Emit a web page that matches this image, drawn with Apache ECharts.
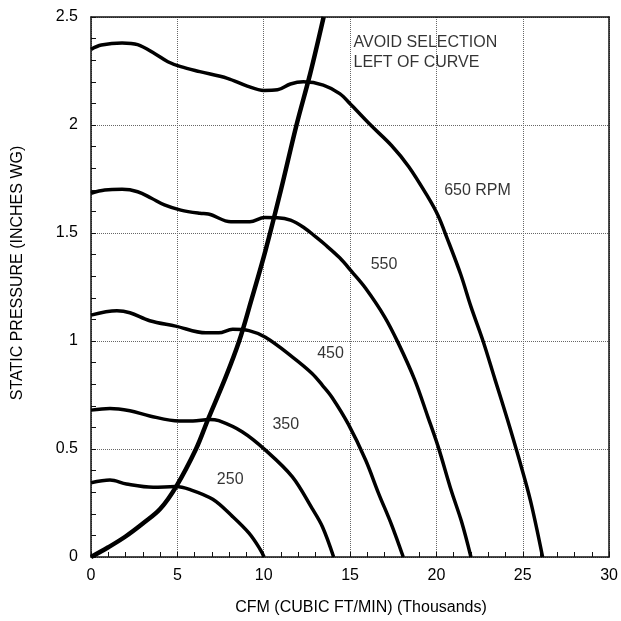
<!DOCTYPE html>
<html>
<head>
<meta charset="utf-8">
<script src="https://cdn.jsdelivr.net/npm/echarts@6/dist/echarts.min.js"></script>
<style>
html,body{margin:0;padding:0;background:#fff;overflow:hidden;}
#chart{width:621px;height:621px;}
</style>
</head>
<body>
<div id="chart"></div>
<script>
// CFM in thousands, static pressure in inches WG
var rpm650 = [[0,2.35],[0.6,2.37],[1.8,2.38],[2.7,2.372],[3.7,2.33],[4.45,2.293],[5.2,2.27],[6.3,2.247],[7.9,2.216],[9.05,2.18],[10,2.16],[10.8,2.163],[11.55,2.19],[12.3,2.2],[13.45,2.185],[14.4,2.145],[15.1,2.09],[16.25,1.995],[17.4,1.905],[18.4,1.807],[19.5,1.668],[20.1,1.58],[20.6,1.48],[21.4,1.31],[22.0,1.159],[22.7,1.0],[23.4,0.82],[24.1,0.64],[24.8,0.45],[25.45,0.26],[26.15,0]];
var rpm550 = [[0,1.684],[0.8,1.699],[1.8,1.702],[2.7,1.691],[3.5,1.661],[4.25,1.63],[5.2,1.606],[6.3,1.591],[6.8,1.588],[8.1,1.552],[9.2,1.552],[10.05,1.572],[10.8,1.571],[11.55,1.56],[12.3,1.527],[13.0,1.483],[13.5,1.45],[14.4,1.385],[15.1,1.321],[15.9,1.244],[17.0,1.112],[17.8,0.989],[18.75,0.819],[19.5,0.65],[20.1,0.511],[20.85,0.31],[21.45,0.165],[22.0,0]];
var rpm450 = [[0,1.12],[1.5,1.14],[2.25,1.131],[3.4,1.094],[4.9,1.069],[6.65,1.038],[7.4,1.038],[8.2,1.054],[9.15,1.048],[10.1,1.017],[11.65,0.927],[12.8,0.85],[13.4,0.795],[13.95,0.74],[14.9,0.615],[15.9,0.449],[16.65,0.295],[17.4,0.15],[18.08,0]];
var rpm350 = [[0,0.68],[1.1,0.688],[2.25,0.677],[3.4,0.653],[5.1,0.63],[5.9,0.63],[6.85,0.637],[7.4,0.631],[8.75,0.58],[10.1,0.495],[11.65,0.372],[12.8,0.225],[13.4,0.14],[14.05,0]];
var rpm250 = [[0,0.344],[1.1,0.356],[2.05,0.338],[3.6,0.323],[4.9,0.326],[5.7,0.313],[7.05,0.267],[8.2,0.187],[9.15,0.11],[9.8,0.035],[10.02,0]];
var systemCurve = [[0,0],[1,0.045],[2,0.095],[3,0.155],[4,0.222],[4.93,0.326],[6.08,0.5],[6.76,0.634],[7.81,0.835],[8.58,1.0],[9.25,1.18],[10.11,1.421],[11.0,1.7],[11.9,2.0],[12.7,2.24],[13.47,2.5]];

var curveLabels = ['650 RPM','550','450','350','250'];
var curveLabelX = [22.38,16.97,13.87,11.28,8.06];
var curveLabelY = [1.698,1.352,0.941,0.611,0.359];
var noteLines = ['AVOID SELECTION','LEFT OF CURVE'];
var noteX = [15.2,15.2];
var noteY = [2.382,2.288];

var xTitle = 'CFM (CUBIC FT/MIN) (Thousands)';
var yTitle = 'STATIC PRESSURE (INCHES WG)';

var FONT = '"Liberation Sans", Arial, sans-serif';

function curve(name, data, w) {
  return {
    name: name, type: 'line', data: data, smooth: 0.35, symbol: 'none',
    lineStyle: { color: '#000', width: w }, clip: true, silent: true
  };
}

var chart = echarts.init(document.getElementById('chart'), null, {renderer: 'canvas'});
var option = {
  animation: false,
  backgroundColor: '#fff',
  grid: { left: 91, right: 9, top: 17, bottom: 64, containLabel: false },
  textStyle: { fontFamily: FONT },
  xAxis: [{
    type: 'value', min: 0, max: 30, interval: 5,
    name: xTitle, nameLocation: 'middle', nameGap: 43,
    nameTextStyle: { fontFamily: FONT, fontSize: 16, color: '#000', padding: [0,0,0,22] },
    axisLine: { show: true, lineStyle: { color: '#111', width: 1.5 } },
    axisTick: { show: true, inside: true, length: 5, lineStyle: { color: '#111' } },
    minorTick: { show: true, splitNumber: 5, length: 5, lineStyle: { color: '#111' } },
    axisLabel: { fontFamily: FONT, fontSize: 16, color: '#000', margin: 11 },
    splitLine: { show: true, lineStyle: { type: 'dotted', color: '#666', width: 1 } }
  }, {
    type: 'value', min: 0, max: 30, position: 'top',
    axisLine: { show: true, onZero: false, lineStyle: { color: '#111', width: 1.5 } },
    axisTick: { show: false }, axisLabel: { show: false }, splitLine: { show: false }
  }],
  yAxis: [{
    type: 'value', min: 0, max: 2.5, interval: 0.5,
    name: yTitle, nameLocation: 'middle', nameGap: 65, nameRotate: 90,
    nameTextStyle: { fontFamily: FONT, fontSize: 16, color: '#000', padding: [0,0,0,28] },
    axisLine: { show: true, lineStyle: { color: '#111', width: 1.5 } },
    axisTick: { show: true, inside: true, length: 5, lineStyle: { color: '#111' } },
    minorTick: { show: true, splitNumber: 5, length: 5, lineStyle: { color: '#111' } },
    axisLabel: { fontFamily: FONT, fontSize: 16, color: '#000', margin: 13 },
    splitLine: { show: true, lineStyle: { type: 'dotted', color: '#666', width: 1 } }
  }, {
    type: 'value', min: 0, max: 2.5, position: 'right',
    axisLine: { show: true, onZero: false, lineStyle: { color: '#111', width: 1.5 } },
    axisTick: { show: false }, axisLabel: { show: false }, splitLine: { show: false }
  }],
  series: [
    curve('650 RPM', rpm650, 3.5),
    curve('550 RPM', rpm550, 3.5),
    curve('450 RPM', rpm450, 3.5),
    curve('350 RPM', rpm350, 3.5),
    curve('250 RPM', rpm250, 3.5),
    curve('System limit', systemCurve, 4.5),
    {
      name: 'curve labels', type: 'scatter', symbolSize: 0, silent: true,
      data: curveLabels.map(function (t, i) { return { value: [curveLabelX[i], curveLabelY[i]], name: t }; }),
      label: { show: true, position: 'inside', formatter: '{b}', fontFamily: FONT, fontSize: 16, color: '#000' }
    },
    {
      name: 'note', type: 'scatter', symbolSize: 0, silent: true,
      data: noteLines.map(function (t, i) { return { value: [noteX[i], noteY[i]], name: t }; }),
      label: { show: true, position: 'right', distance: 0, formatter: '{b}', fontFamily: FONT, fontSize: 16, color: '#000' }
    }
  ]
};
chart.setOption(option);
</script>
</body>
</html>
